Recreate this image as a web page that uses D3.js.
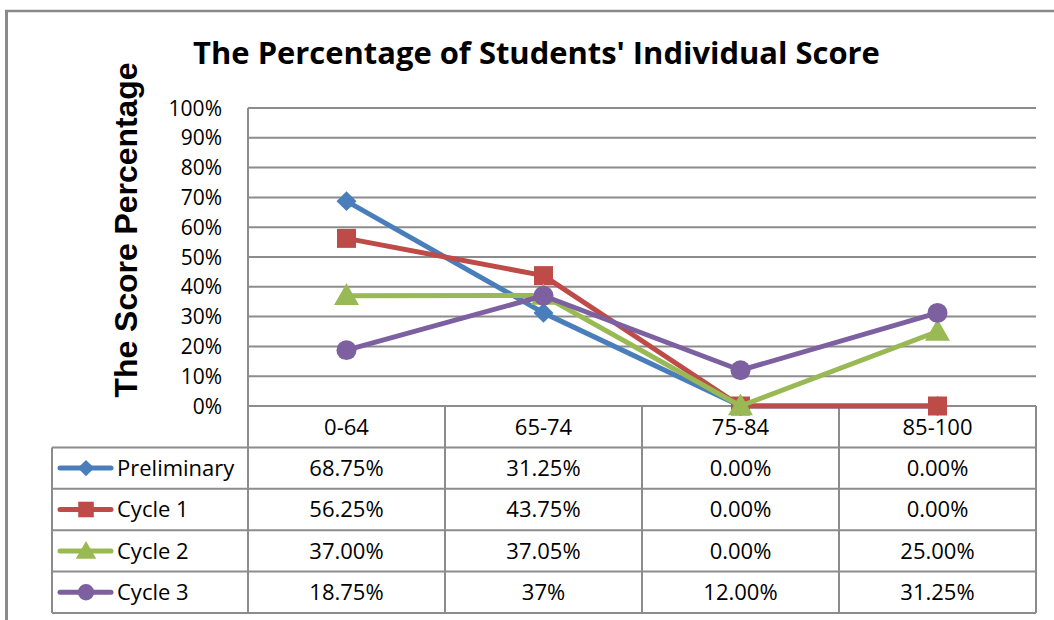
<!DOCTYPE html>
<html>
<head>
<meta charset="utf-8">
<script src="https://cdn.jsdelivr.net/npm/d3@7"></script>
<style>
  body { margin: 0; background: #fff; }
  text { font-family: "Open Sans", sans-serif; fill: #000; }
</style>
</head>
<body>
<svg id="chart" width="1054" height="620"></svg>
<script>
// Data
var categories = ["0-64", "65-74", "75-84", "85-100"];
var seriesNames = ["Preliminary", "Cycle 1", "Cycle 2", "Cycle 3"];
var preliminary = [68.75, 31.25, 0, 0];
var cycle1 = [56.25, 43.75, 0, 0];
var cycle2 = [37.00, 37.05, 0, 25];
var cycle3 = [18.75, 37, 12, 31.25];
var preliminaryLabels = ["68.75%", "31.25%", "0.00%", "0.00%"];
var cycle1Labels = ["56.25%", "43.75%", "0.00%", "0.00%"];
var cycle2Labels = ["37.00%", "37.05%", "0.00%", "25.00%"];
var cycle3Labels = ["18.75%", "37%", "12.00%", "31.25%"];

var colors = ["#4a7ebb", "#be4b48", "#98b954", "#7d60a0"];
var shapes = ["diamond", "square", "triangle", "circle"];

var series = seriesNames.map(function(name, i) {
  return {
    name: name,
    values: [preliminary, cycle1, cycle2, cycle3][i],
    labels: [preliminaryLabels, cycle1Labels, cycle2Labels, cycle3Labels][i],
    color: colors[i],
    shape: shapes[i]
  };
});

var svg = d3.select("#chart");
var gridColor = "#8c8c8c";

// outer frame (left and top edges only visible)
svg.append("line").attr("x1", 6.5).attr("x2", 6.5).attr("y1", 10).attr("y2", 620)
  .attr("stroke", "#8a8a8a").attr("stroke-width", 3);
svg.append("line").attr("x1", 5).attr("x2", 1054).attr("y1", 11).attr("y2", 11)
  .attr("stroke", "#8a8a8a").attr("stroke-width", 2.5);

var plotLeft = 248, plotRight = 1036, plotTop = 108, plotBottom = 406;
var legendLeft = 52, tableBottom = 613;

var x = d3.scaleBand().domain(categories).range([plotLeft, plotRight]);
var y = d3.scaleLinear().domain([0, 100]).range([plotBottom, plotTop]);
var rows = d3.scaleBand().domain(["cat"].concat(seriesNames)).range([plotBottom, tableBottom]);

// gridlines
svg.append("g")
  .selectAll("line")
  .data(y.ticks(10))
  .enter()
  .append("line")
    .attr("x1", plotLeft).attr("x2", plotRight)
    .attr("y1", function(d) { return y(d); })
    .attr("y2", function(d) { return y(d); })
    .attr("stroke", gridColor).attr("stroke-width", 2);

// y tick labels
svg.append("g")
  .selectAll("text")
  .data(y.ticks(10))
  .enter()
  .append("text")
    .attr("x", 222)
    .attr("y", function(d) { return y(d); })
    .attr("dy", "0.36em")
    .attr("text-anchor", "end")
    .style("font-size", "21px")
    .text(function(d) { return d + "%"; });

// table grid
var table = svg.append("g");
// left axis line / legend column right edge
table.append("line").attr("x1", plotLeft).attr("x2", plotLeft).attr("y1", plotTop).attr("y2", tableBottom)
  .attr("stroke", gridColor).attr("stroke-width", 2);
// column separators
table.selectAll(".col")
  .data(categories)
  .enter()
  .append("line")
    .attr("x1", function(d) { return x(d) + x.bandwidth(); })
    .attr("x2", function(d) { return x(d) + x.bandwidth(); })
    .attr("y1", plotBottom).attr("y2", tableBottom)
    .attr("stroke", gridColor).attr("stroke-width", 2);
// row separators
table.selectAll(".row")
  .data(seriesNames)
  .enter()
  .append("line")
    .attr("x1", legendLeft).attr("x2", plotRight)
    .attr("y1", function(d) { return rows(d); })
    .attr("y2", function(d) { return rows(d); })
    .attr("stroke", gridColor).attr("stroke-width", 2);
table.append("line").attr("x1", legendLeft).attr("x2", plotRight).attr("y1", tableBottom).attr("y2", tableBottom)
  .attr("stroke", gridColor).attr("stroke-width", 2);
table.append("line").attr("x1", legendLeft).attr("x2", legendLeft).attr("y1", rows("Preliminary")).attr("y2", tableBottom)
  .attr("stroke", gridColor).attr("stroke-width", 2);

// category labels
table.selectAll(".catlab")
  .data(categories)
  .enter()
  .append("text")
    .attr("x", function(d) { return x(d) + x.bandwidth() / 2; })
    .attr("y", rows("cat") + rows.bandwidth() / 2)
    .attr("dy", "0.36em")
    .attr("text-anchor", "middle")
    .style("font-size", "22px")
    .text(function(d) { return d; });

// value cells
series.forEach(function(s) {
  table.append("g")
    .selectAll("text")
    .data(s.labels)
    .enter()
    .append("text")
      .attr("x", function(d, i) { return x(categories[i]) + x.bandwidth() / 2; })
      .attr("y", rows(s.name) + rows.bandwidth() / 2)
      .attr("dy", "0.36em")
      .attr("text-anchor", "middle")
      .style("font-size", "22px")
      .text(function(d) { return d; });
});

function symbolPath(shape, k) {
  if (shape === "diamond") return d3.symbol(d3.symbolSquare, 200 * k * k)();
  if (shape === "square") return d3.symbol(d3.symbolSquare, 361 * k * k)();
  if (shape === "triangle") return d3.symbol(d3.symbolTriangle, 270 * k * k)();
  return d3.symbol(d3.symbolCircle, 314 * k * k)();
}
function symbolTransform(shape, px, py) {
  if (shape === "diamond") return "translate(" + px + "," + py + ") rotate(45)";
  if (shape === "triangle") return "translate(" + px + "," + (py + 2) + ")";
  return "translate(" + px + "," + py + ")";
}

// legend keys
series.forEach(function(s) {
  var cy = rows(s.name) + rows.bandwidth() / 2;
  var g = svg.append("g");
  g.append("line").attr("x1", 60).attr("x2", 111).attr("y1", cy).attr("y2", cy)
    .attr("stroke", s.color).attr("stroke-width", 5).attr("stroke-linecap", "round");
  g.append("path").attr("d", symbolPath(s.shape, 0.82))
    .attr("transform", symbolTransform(s.shape, 86, cy))
    .attr("fill", s.color);
  g.append("text").attr("x", 117).attr("y", cy).attr("dy", "0.36em")
    .style("font-size", "22px")
    .text(s.name);
});

// lines and markers
var line = d3.line()
  .x(function(d, i) { return x(categories[i]) + x.bandwidth() / 2; })
  .y(function(d) { return y(d); });

series.forEach(function(s) {
  var g = svg.append("g");
  g.append("path")
    .datum(s.values)
    .attr("d", line)
    .attr("fill", "none")
    .attr("stroke", s.color)
    .attr("stroke-width", 5)
    .attr("stroke-linejoin", "round");
  g.selectAll("path.pt")
    .data(s.values)
    .enter()
    .append("path")
      .attr("class", "pt")
      .attr("d", symbolPath(s.shape, 1))
      .attr("transform", function(d, i) {
        return symbolTransform(s.shape, x(categories[i]) + x.bandwidth() / 2, y(d));
      })
      .attr("fill", s.color);
});

// title, fitted to the width it takes in the original
var title = svg.append("text")
  .attr("x", 536.5).attr("y", 64)
  .attr("text-anchor", "middle")
  .style("font-size", "30px")
  .style("font-weight", "bold")
  .text("The Percentage of Students' Individual Score");
var tw = title.node().getComputedTextLength();
title.style("font-size", (30 * 687 / tw) + "px");

// y axis title
var yTitle = svg.append("text")
  .attr("transform", "translate(137,230) rotate(-90)")
  .attr("text-anchor", "middle")
  .style("font-family", "'Liberation Sans', Arial, sans-serif")
  .style("font-size", "30px")
  .style("font-weight", "bold")
  .text("The Score Percentage");
var yw = yTitle.node().getComputedTextLength();
yTitle.style("font-size", (30 * 335 / yw) + "px");
</script>
</body>
</html>
